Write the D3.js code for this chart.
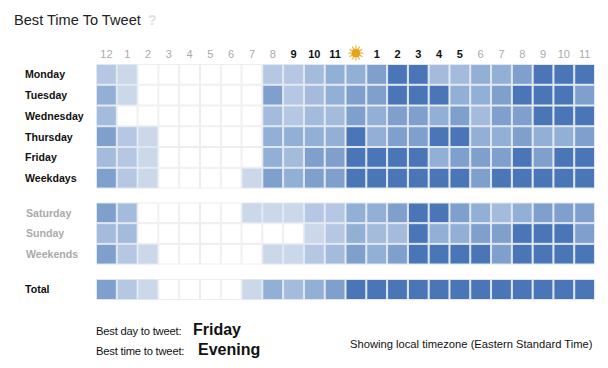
<!DOCTYPE html>
<html>
<head>
<meta charset="utf-8">
<script src="https://cdn.jsdelivr.net/npm/d3@7"></script>
<style>
  html, body { margin: 0; padding: 0; background: #fff; }
  svg { display: block; font-family: "Liberation Sans", Arial, sans-serif; }
</style>
</head>
<body>
<div id="chart"></div>
<script>
const hours = ['12','1','2','3','4','5','6','7','8','9','10','11','noon','1','2','3','4','5','6','7','8','9','10','11'];
const boldHours = [9, 10, 11, 13, 14, 15, 16, 17];

const weekdayRows = ['Monday','Tuesday','Wednesday','Thursday','Friday','Weekdays'];
const weekendRows = ['Saturday','Sunday','Weekends'];
const totalRows = ['Total'];

// tweet activity level 0-6 per hour
const monday    = [2,1,0,0,0,0,0,0,2,2,3,4,4,5,6,6,3,3,4,4,5,6,6,6];
const tuesday   = [4,1,0,0,0,0,0,0,5,2,3,4,5,5,6,6,6,4,4,5,6,6,6,5];
const wednesday = [3,0,0,0,0,0,0,0,3,2,3,3,5,4,5,5,4,5,3,5,5,6,6,6];
const thursday  = [5,2,1,0,0,0,0,0,4,4,4,4,6,4,5,5,6,6,4,4,5,4,4,5];
const friday    = [3,2,1,0,0,0,0,0,4,3,5,5,6,6,6,6,4,5,5,5,6,5,6,6];
const weekdays  = [5,2,1,0,0,0,0,1,5,4,5,5,6,6,6,6,6,6,5,6,6,6,6,6];
const saturday  = [5,3,0,0,0,0,0,1,1,1,2,2,4,4,5,6,6,5,4,3,4,5,5,5];
const sunday    = [3,3,0,0,0,0,0,0,0,0,1,2,4,3,3,6,4,4,5,5,6,6,6,5];
const weekends  = [5,2,1,0,0,0,0,0,1,1,2,3,5,4,5,6,6,6,6,5,6,6,6,6];
const total     = [5,2,1,0,0,0,0,1,4,3,4,5,6,6,6,6,6,6,6,6,6,6,6,6];

const levels = [0,1,2,3,4,5,6];
const levelColors = ['#ffffff','#cbd8ea','#b5c7e2','#a5bbdc','#92afd6','#7f9fcc','#4a76b7'];

const rowValues = {
  Monday: monday, Tuesday: tuesday, Wednesday: wednesday, Thursday: thursday,
  Friday: friday, Weekdays: weekdays, Saturday: saturday, Sunday: sunday,
  Weekends: weekends, Total: total
};

const width = 608, height = 368;

const svg = d3.select('#chart').append('svg')
  .attr('width', width)
  .attr('height', height);

const color = d3.scaleOrdinal().domain(levels).range(levelColors);

const xScale = d3.scaleBand()
  .domain(d3.range(hours.length))
  .range([96, 595]);

const blocks = [
  { rows: weekdayRows, range: [64, 188.5], labelFill: '#111', labelX: 25 },
  { rows: weekendRows, range: [202.5, 264.5], labelFill: '#aaa', labelX: 26 },
  { rows: totalRows, range: [279, 300], labelFill: '#111', labelX: 25 }
];

blocks.forEach(block => {
  const yScale = d3.scaleBand().domain(block.rows).range(block.range);

  const rowG = svg.selectAll(null)
    .data(block.rows)
    .enter().append('g');

  rowG.selectAll('rect')
    .data(name => rowValues[name].map((v, i) => ({ name, v, i })))
    .enter().append('rect')
      .attr('x', d => xScale(d.i) + 0.5)
      .attr('y', d => yScale(d.name) + 0.5)
      .attr('width', xScale.bandwidth() - 1)
      .attr('height', yScale.bandwidth() - 1)
      .attr('fill', d => color(d.v))
      .attr('stroke', d => d.v == 0 ? '#eeeeee' : '#dfe7f2')
      .attr('stroke-width', 1);

  const yAxisG = svg.append('g')
    .attr('transform', `translate(${block.labelX}, 0.5)`)
    .call(d3.axisLeft(yScale).tickSize(0).tickPadding(0));
  yAxisG.select('.domain').remove();
  yAxisG.selectAll('text')
    .attr('text-anchor', 'start')
    .attr('font-family', '"Liberation Sans", Arial, sans-serif')
    .attr('font-size', 10.6)
    .attr('font-weight', 'bold')
    .attr('fill', block.labelFill);
});

// hour labels along the top
const xAxis = d3.axisTop(xScale)
  .tickSize(0)
  .tickPadding(0)
  .tickFormat(i => hours[i] == 'noon' ? '' : hours[i]);
const xAxisG = svg.append('g')
  .attr('transform', 'translate(0, 57.5)')
  .call(xAxis);
xAxisG.select('.domain').remove();
xAxisG.selectAll('text')
  .attr('font-family', '"Liberation Sans", Arial, sans-serif')
  .attr('font-size', 11)
  .attr('font-weight', i => boldHours.includes(i) ? 'bold' : 'normal')
  .attr('fill', i => boldHours.includes(i) ? '#111' : '#aaa');

// sun icon in place of the noon label
const sunX = xScale(hours.indexOf('noon')) + xScale.bandwidth() / 2;
const sun = svg.append('g').attr('transform', `translate(${sunX}, 53)`);
sun.selectAll('line')
  .data(d3.range(12))
  .enter().append('line')
    .attr('x1', 0).attr('y1', -4.5)
    .attr('x2', 0).attr('y2', -7.5)
    .attr('transform', d => `rotate(${d * 30})`)
    .attr('stroke', '#f0b429')
    .attr('stroke-width', 1.1);
sun.append('circle')
  .attr('r', 4.6)
  .attr('fill', '#e9a21b');

svg.append('text')
  .attr('x', 14).attr('y', 25)
  .attr('font-size', 14.6)
  .attr('fill', '#222')
  .text('Best Time To Tweet');
svg.append('text')
  .attr('x', 148).attr('y', 25)
  .attr('font-size', 14)
  .attr('font-weight', 'bold')
  .attr('fill', '#e2e2e2')
  .text('?');

const notes = [
  { x: 96, y: 335, size: 11.2, weight: 'normal', text: 'Best day to tweet:', spacing: -0.2 },
  { x: 96, y: 355, size: 11.2, weight: 'normal', text: 'Best time to tweet:', spacing: -0.2 },
  { x: 193, y: 335, size: 16, weight: 'bold', text: 'Friday', spacing: 0 },
  { x: 198, y: 355, size: 16, weight: 'bold', text: 'Evening', spacing: 0 },
  { x: 350, y: 347.5, size: 11.2, weight: 'normal', text: 'Showing local timezone (Eastern Standard Time)', spacing: 0 }
];
svg.selectAll('.note')
  .data(notes)
  .enter().append('text')
    .attr('class', 'note')
    .attr('x', d => d.x)
    .attr('y', d => d.y)
    .attr('font-size', d => d.size)
    .attr('font-weight', d => d.weight)
    .attr('letter-spacing', d => d.spacing)
    .attr('fill', '#111')
    .text(d => d.text);
</script>
</body>
</html>
